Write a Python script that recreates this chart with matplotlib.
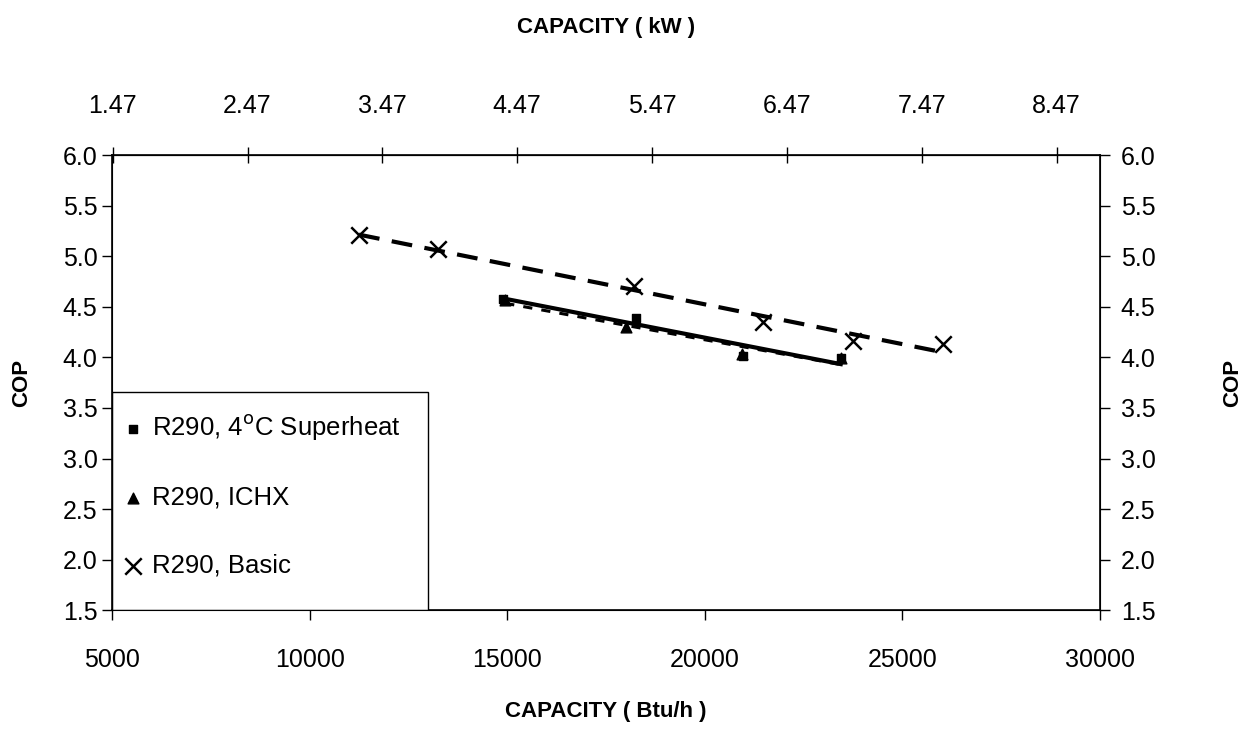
import numpy as np
import matplotlib.pyplot as plt
from matplotlib.patches import Rectangle

plt.rcParams['font.family'] = ['Liberation Sans', 'DejaVu Sans']

# capacity (Btu/h) and COP
sh_cap = [14890, 18260, 20960, 23440]
sh_cop = [4.58, 4.39, 4.01, 3.99]

ichx_cap = [14950, 18000, 20950, 23440]
ichx_cop = [4.57, 4.30, 4.03, 3.99]

basic_cap = [11250, 13250, 18210, 21470, 23750, 26020]
basic_cop = [5.21, 5.07, 4.71, 4.35, 4.16, 4.13]

btu_per_kw = 3412.14
kw_ticks = [1.47, 2.47, 3.47, 4.47, 5.47, 6.47, 7.47, 8.47]
cop_ticks = [1.5, 2.0, 2.5, 3.0, 3.5, 4.0, 4.5, 5.0, 5.5, 6.0]

fig = plt.figure(figsize=(12.56, 7.29), dpi=100)
ax = fig.add_axes([0.0892, 0.163, 0.7866, 0.624])

ax.scatter(sh_cap, sh_cop, marker='s', s=40, color='black', label=r'R290, 4$^{\rm o}$C Superheat', zorder=5)
ax.scatter(ichx_cap, ichx_cop, marker='^', s=60, color='black', label='R290, ICHX', zorder=5)
ax.scatter(basic_cap, basic_cop, marker='x', s=140, color='black', linewidths=1.8, label='R290, Basic', zorder=5)

# linear trendlines
def trend(x, y, **kw):
    p = np.polyfit(x, y, 1)
    xs = np.array([min(x), max(x)])
    ax.plot(xs, np.polyval(p, xs), color='black', **kw)

trend(sh_cap, sh_cop, lw=3, ls='-')
trend(ichx_cap, ichx_cop, lw=2.2, ls=(0, (3, 3)))
trend(basic_cap, basic_cop, lw=3, ls=(0, (5, 3)))

ax.set_xlim(5000, 30000)
ax.set_ylim(1.5, 6.0)
ax.set_xticks([5000, 10000, 15000, 20000, 25000, 30000])
ax.set_yticks(cop_ticks)
ax.set_yticklabels(['%.1f' % v for v in cop_ticks])
ax.tick_params(axis='both', labelsize=18, length=7, width=1, direction='out')
ax.tick_params(axis='x', pad=20)
for s in ax.spines.values():
    s.set_linewidth(1.2)

ax.set_xlabel('CAPACITY ( Btu/h )', fontsize=16, fontweight='bold', labelpad=21)
ax.set_ylabel('COP', fontsize=16, fontweight='bold', labelpad=22)

# right COP axis
ax2 = ax.twinx()
ax2.set_ylim(1.5, 6.0)
ax2.set_yticks(cop_ticks)
ax2.set_yticklabels(['%.1f' % v for v in cop_ticks])
ax2.tick_params(axis='y', labelsize=18, length=7, width=1, direction='out', pad=8)
ax2.set_ylabel('COP', fontsize=16, fontweight='bold', labelpad=48)

# top kW axis
top = ax.secondary_xaxis('top', functions=(lambda b: b / btu_per_kw, lambda k: k * btu_per_kw))
top.set_xticks(kw_ticks)
top.set_xticklabels(['%.2f' % v for v in kw_ticks])
top.tick_params(labelsize=18, length=12, width=1, direction='inout', pad=21)
top.set_xlabel('CAPACITY ( kW )', fontsize=16, fontweight='bold', labelpad=44)

# legend box drawn separately
ax.add_patch(Rectangle((0, 0), 0.32, 0.479, transform=ax.transAxes, facecolor='white',
                       edgecolor='black', lw=1.0, zorder=6))
leg = ax.legend(loc='upper left', bbox_to_anchor=(0.008, 0.435), fontsize=18.5,
                frameon=False, labelspacing=1.7, handletextpad=0.25, handlelength=1.0,
                borderpad=0, borderaxespad=0, scatterpoints=1)
leg.set_zorder(7)

fig.savefig('out.png', dpi=100, facecolor='white')
